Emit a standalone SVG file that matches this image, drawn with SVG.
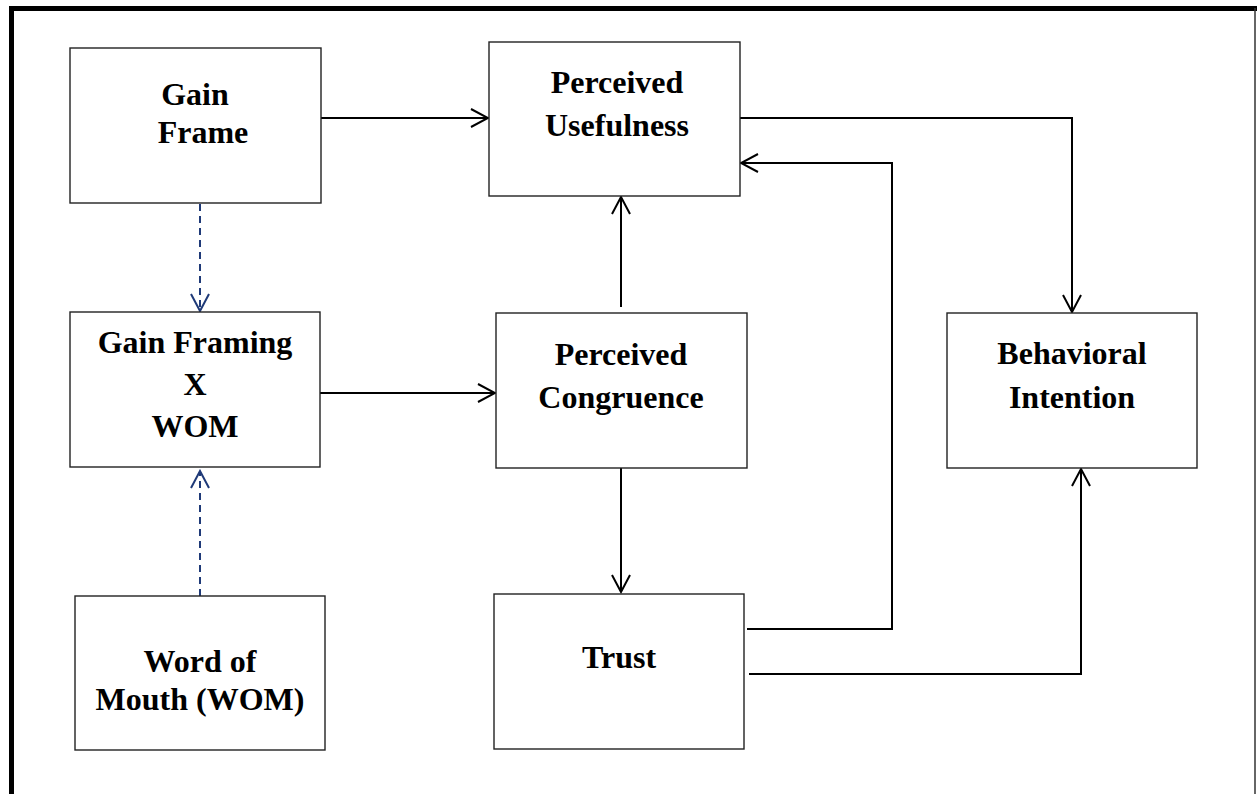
<svg xmlns="http://www.w3.org/2000/svg" width="1257" height="794" viewBox="0 0 1257 794">
<style>
.box{fill:#fff;stroke:#222;stroke-width:1.4}
.lbl{font-family:"Liberation Serif","Times New Roman",serif;font-weight:bold;font-size:32px;fill:#000;text-anchor:middle}
.con{fill:none;stroke:#000;stroke-width:2}
.dash{fill:none;stroke:#1f3a78;stroke-width:2;stroke-dasharray:7 5}
</style>
<defs>
<marker id="ah" viewBox="0 0 20 20" refX="18" refY="10" markerWidth="20" markerHeight="20" markerUnits="userSpaceOnUse" orient="auto">
<path d="M1,1 L18,10 L1,19" fill="none" stroke="#000" stroke-width="2"/>
</marker>
<marker id="ahd" viewBox="0 0 20 20" refX="18" refY="10" markerWidth="20" markerHeight="20" markerUnits="userSpaceOnUse" orient="auto">
<path d="M1,1 L18,10 L1,19" fill="none" stroke="#1f3a78" stroke-width="2"/>
</marker>
</defs>
<rect width="1257" height="794" fill="#fff"/>
<g id="frame">
<line x1="9" y1="8.5" x2="1257" y2="8.5" stroke="#000" stroke-width="5"/>
<line x1="11.5" y1="6" x2="11.5" y2="794" stroke="#000" stroke-width="5"/>
<line x1="1255" y1="8" x2="1255" y2="794" stroke="#333" stroke-width="1.5"/>
</g>
<g id="connectors">
<path class="con" d="M321,118 H488" marker-end="url(#ah)"/>
<path class="dash" d="M200,204 V311" marker-end="url(#ahd)"/>
<path class="dash" d="M200,596 V471" marker-end="url(#ahd)"/>
<path class="con" d="M320,393 H495" marker-end="url(#ah)"/>
<path class="con" d="M621,307 V197" marker-end="url(#ah)"/>
<path class="con" d="M621,464 V592" marker-end="url(#ah)"/>
<path class="con" d="M740,118 H1072 V312" marker-end="url(#ah)"/>
<path class="con" d="M747,629 H892 V163 H741" marker-end="url(#ah)"/>
<path class="con" d="M749,674 H1081 V469" marker-end="url(#ah)"/>
</g>
<g id="gain-frame">
<rect class="box" x="70" y="48" width="251" height="155"/>
<text class="lbl" x="195" y="105">Gain</text>
<text class="lbl" x="203" y="143">Frame</text>
</g>
<g id="gain-framing-x-wom">
<rect class="box" x="70" y="312" width="250" height="155"/>
<text class="lbl" x="195" y="353">Gain Framing</text>
<text class="lbl" x="195" y="395">X</text>
<text class="lbl" x="195" y="437">WOM</text>
</g>
<g id="word-of-mouth">
<rect class="box" x="75" y="596" width="250" height="154"/>
<text class="lbl" x="200" y="672">Word of</text>
<text class="lbl" x="200" y="710">Mouth (WOM)</text>
</g>
<g id="perceived-usefulness">
<rect class="box" x="489" y="42" width="251" height="154"/>
<text class="lbl" x="617" y="93">Perceived</text>
<text class="lbl" x="617" y="136">Usefulness</text>
</g>
<g id="perceived-congruence">
<rect class="box" x="496" y="313" width="251" height="155"/>
<text class="lbl" x="621" y="365">Perceived</text>
<text class="lbl" x="621" y="408">Congruence</text>
</g>
<g id="trust">
<rect class="box" x="494" y="594" width="250" height="155"/>
<text class="lbl" x="619" y="668">Trust</text>
</g>
<g id="behavioral-intention">
<rect class="box" x="947" y="313" width="250" height="155"/>
<text class="lbl" x="1072" y="364">Behavioral</text>
<text class="lbl" x="1072" y="408">Intention</text>
</g>
</svg>
